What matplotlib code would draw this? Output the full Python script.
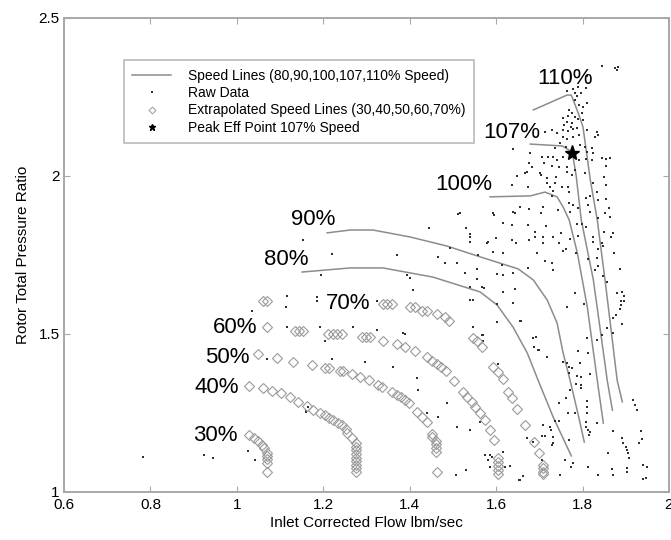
import matplotlib
matplotlib.use("Agg")
import matplotlib.pyplot as plt
from matplotlib.lines import Line2D

plt.rcParams["font.family"] = ["Liberation Sans", "DejaVu Sans"]

# ---- speed lines (measured) ---------------------------------------------
spd80_x = [1.151, 1.262, 1.338, 1.454, 1.563, 1.602, 1.639, 1.672, 1.697, 1.732, 1.774]
spd80_y = [1.696, 1.709, 1.709, 1.680, 1.633, 1.592, 1.522, 1.440, 1.354, 1.237, 1.114]

spd90_x = [1.209, 1.262, 1.315, 1.401, 1.487, 1.563, 1.651, 1.686, 1.718, 1.741, 1.755,
           1.771, 1.790, 1.804]
spd90_y = [1.820, 1.829, 1.829, 1.807, 1.778, 1.744, 1.706, 1.671, 1.608, 1.535, 1.440,
           1.354, 1.244, 1.158]

spd100_x = [1.586, 1.679, 1.713, 1.741, 1.755, 1.769, 1.788, 1.811, 1.834, 1.848]
spd100_y = [1.934, 1.937, 1.949, 1.934, 1.902, 1.861, 1.756, 1.585, 1.354, 1.218]

spd107_x = [1.679, 1.753, 1.776, 1.785, 1.797, 1.811, 1.825, 1.841, 1.857, 1.869]
spd107_y = [2.101, 2.095, 2.076, 2.003, 1.861, 1.766, 1.671, 1.513, 1.354, 1.259]

spd110_x = [1.686, 1.764, 1.774, 1.790, 1.801, 1.818, 1.834, 1.852, 1.866, 1.880, 1.892]
spd110_y = [2.209, 2.256, 2.256, 2.199, 2.155, 1.987, 1.861, 1.671, 1.513, 1.354, 1.285]

# ---- extrapolated speed lines -------------------------------------------
ext30_x = [1.028, 1.040, 1.049, 1.058, 1.063, 1.070, 1.070, 1.070, 1.070, 1.070]
ext30_y = [1.180, 1.171, 1.161, 1.149, 1.139, 1.123, 1.114, 1.104, 1.092, 1.063]

ext40_x = [1.028, 1.061, 1.081, 1.102, 1.123, 1.142, 1.163, 1.176, 1.193, 1.204, 1.213,
           1.223, 1.234, 1.244, 1.253, 1.255, 1.267, 1.276, 1.276, 1.276, 1.276, 1.276,
           1.276, 1.276, 1.276, 1.276]
ext40_y = [1.335, 1.329, 1.320, 1.313, 1.301, 1.285, 1.272, 1.259, 1.250, 1.244, 1.234,
           1.228, 1.218, 1.212, 1.199, 1.187, 1.171, 1.155, 1.142, 1.133, 1.120, 1.108,
           1.098, 1.085, 1.076, 1.063]

ext50_x = [1.049, 1.093, 1.130, 1.174, 1.204, 1.213, 1.239, 1.246, 1.267, 1.285, 1.306,
           1.327, 1.336, 1.359, 1.371, 1.380, 1.389, 1.399, 1.417, 1.429, 1.440, 1.452,
           1.452, 1.461, 1.461, 1.461, 1.461, 1.463]
ext50_y = [1.437, 1.424, 1.411, 1.402, 1.392, 1.392, 1.383, 1.383, 1.373, 1.364, 1.354,
           1.339, 1.332, 1.316, 1.307, 1.301, 1.291, 1.282, 1.253, 1.237, 1.222, 1.184,
           1.174, 1.161, 1.152, 1.139, 1.127, 1.063]

ext60_x = [1.070, 1.135, 1.144, 1.153, 1.211, 1.223, 1.232, 1.244, 1.290, 1.299, 1.308,
           1.338, 1.371, 1.389, 1.413, 1.440, 1.452, 1.463, 1.473, 1.484, 1.503, 1.524,
           1.533, 1.544, 1.551, 1.563, 1.575, 1.586, 1.595, 1.605, 1.605, 1.605, 1.605,
           1.605]
ext60_y = [1.522, 1.509, 1.509, 1.509, 1.500, 1.500, 1.500, 1.500, 1.491, 1.491, 1.491,
           1.478, 1.468, 1.459, 1.446, 1.427, 1.415, 1.405, 1.396, 1.383, 1.351, 1.316,
           1.301, 1.285, 1.269, 1.250, 1.228, 1.196, 1.165, 1.108, 1.095, 1.082, 1.070,
           1.057]

ext70_x = [1.061, 1.070, 1.338, 1.348, 1.359, 1.401, 1.413, 1.429, 1.440, 1.463, 1.482,
           1.491, 1.547, 1.556, 1.568, 1.593, 1.605, 1.616, 1.628, 1.637, 1.649, 1.667,
           1.688, 1.700, 1.709, 1.709, 1.709, 1.709]
ext70_y = [1.604, 1.604, 1.595, 1.595, 1.595, 1.585, 1.585, 1.573, 1.573, 1.563, 1.554,
           1.541, 1.487, 1.478, 1.459, 1.396, 1.380, 1.358, 1.316, 1.297, 1.263, 1.212,
           1.158, 1.123, 1.085, 1.076, 1.063, 1.057]

# ---- raw data ------------------------------------------------------------
raw_x = [
    0.783, 0.924, 0.945, 1.026, 1.042, 1.160,
    1.116, 1.114, 1.186, 1.035, 1.116, 1.204, 1.269, 1.325, 1.385, 1.070, 1.220, 1.297,
    1.362, 1.417, 1.419, 1.440, 1.487, 1.466, 1.510, 1.540, 1.563, 1.568, 1.165, 1.160,
    1.591, 1.575, 1.632, 1.656, 1.531, 1.507, 1.686, 1.706, 1.725, 1.718, 1.700, 1.656,
    1.616, 1.568, 1.547, 1.602, 1.639, 1.686, 1.730, 1.732,
    1.512, 1.445, 1.531, 1.540, 1.540, 1.153, 1.220, 1.371, 1.466, 1.482, 1.510, 1.556,
    1.401, 1.195, 1.186, 1.325, 1.540, 1.193, 1.389, 1.547,
    1.616, 1.637, 1.690, 1.716, 1.690, 1.709, 1.732, 1.750, 1.771, 1.746, 1.762, 1.755,
    1.579, 1.600, 1.637, 1.646, 1.676, 1.709, 1.593, 1.695, 1.788, 1.799, 1.808, 1.790,
    1.825, 1.825, 1.850, 1.871, 1.866, 1.845, 1.848, 1.836, 1.873, 1.813, 1.834, 1.785,
    1.829, 1.836, 1.887, 1.857, 1.848, 1.713, 1.730, 1.732, 1.614, 1.616, 1.572, 1.616,
    1.644, 1.783, 1.764, 1.804, 1.880, 1.892, 1.896, 1.889, 1.896, 1.889, 1.887, 1.878,
    1.871, 1.892, 1.857, 1.871, 1.845, 1.834, 1.811, 1.602, 1.658, 1.570, 1.570, 1.693,
    1.688, 1.697, 1.790, 1.813, 1.794, 1.755, 1.764, 1.769, 1.776, 1.769, 1.788, 1.797,
    1.818, 1.605,
    1.785, 1.797, 1.797, 1.762, 1.771, 1.746, 1.811, 1.811, 1.811, 1.767, 1.783, 1.737,
    1.746, 1.709, 1.727, 1.808, 1.808, 1.813, 1.818, 1.815, 1.834, 1.871, 1.917, 1.922,
    1.926, 1.936, 1.938, 1.931, 1.892, 1.894, 1.901, 1.903, 1.906, 1.908, 1.859, 1.869,
    1.871, 1.903, 1.903, 1.940, 1.950, 1.940, 1.947, 1.836, 1.813, 1.774, 1.778, 1.760,
    1.748, 1.769, 1.732, 1.713, 1.672, 1.706, 1.663, 1.653, 1.616, 1.586, 1.581, 1.586,
    1.621,
    1.845, 1.875, 1.880, 1.882, 1.811, 1.790, 1.778, 1.783, 1.797, 1.808, 1.764, 1.788,
    1.783, 1.811, 1.792, 1.769, 1.776, 1.799, 1.801, 1.767, 1.783, 1.790, 1.755, 1.764,
    1.776, 1.757, 1.774, 1.788, 1.801, 1.755, 1.767, 1.778, 1.741, 1.755, 1.764, 1.778,
    1.792, 1.811, 1.834, 1.836, 1.829, 1.730, 1.713, 1.748, 1.762, 1.737, 1.794, 1.806,
    1.811, 1.822, 1.825, 1.639, 1.679, 1.706, 1.720, 1.732, 1.741, 1.755, 1.792, 1.808,
    1.822, 1.845, 1.855, 1.864, 1.711, 1.730, 1.746, 1.764, 1.764, 1.783, 1.676, 1.667,
    1.704, 1.718, 1.739, 1.776, 1.806, 1.850, 1.855, 1.649, 1.637, 1.674, 1.718, 1.725,
    1.732, 1.737, 1.753, 1.767, 1.769, 1.825, 1.855, 1.834, 1.818, 1.808, 1.778, 1.769,
    1.836, 1.855, 1.862, 1.852, 1.813, 1.818, 1.790, 1.771, 1.744, 1.730, 1.709, 1.704,
    1.676, 1.656, 1.639, 1.595, 1.836, 1.864,
    1.672, 1.683, 1.702, 1.517, 1.540, 1.593, 1.644, 1.674, 1.494, 1.581, 1.558, 1.528,
    1.540, 1.556, 1.602, 1.639, 1.674, 1.616, 1.394, 1.408,
]
raw_y = [
    1.111, 1.117, 1.108, 1.130, 1.101, 1.256,
    1.620, 1.585, 1.604, 1.573, 1.522, 1.478, 1.522, 1.513, 1.503, 1.421, 1.421, 1.411,
    1.396, 1.361, 1.323, 1.250, 1.282, 1.237, 1.206, 1.196, 1.222, 1.497, 1.269, 1.253,
    1.111, 1.117, 1.082, 1.038, 1.070, 1.054, 1.158, 1.177, 1.206, 1.427, 1.449, 1.541,
    1.633, 1.649, 1.608, 1.595, 1.598, 1.487, 1.149, 1.174,
    1.880, 1.835, 1.835, 1.816, 1.791, 1.797, 1.753, 1.750, 1.744, 1.725, 1.725, 1.674,
    1.677, 1.687, 1.617, 1.604, 1.608, 1.522, 1.500, 1.522,
    1.851, 1.845, 1.823, 1.842, 1.807, 1.807, 1.807, 1.820, 1.801, 1.788, 1.769, 1.763,
    1.788, 1.804, 1.797, 1.788, 1.797, 1.788, 1.759, 1.756, 1.848, 1.848, 1.839, 1.810,
    1.807, 1.791, 1.823, 1.820, 1.807, 1.788, 1.778, 1.769, 1.756, 1.737, 1.741, 1.756,
    1.703, 1.715, 1.706, 1.665, 1.684, 1.731, 1.725, 1.703, 1.718, 1.687, 1.646, 1.633,
    1.642, 1.630, 1.585, 1.595, 1.630, 1.633, 1.620, 1.604, 1.604, 1.592, 1.579, 1.560,
    1.551, 1.532, 1.519, 1.503, 1.497, 1.481, 1.487, 1.538, 1.541, 1.497, 1.478, 1.491,
    1.459, 1.449, 1.446, 1.440, 1.408, 1.411, 1.408, 1.396, 1.392, 1.377, 1.367, 1.364,
    1.373, 1.405,
    1.342, 1.339, 1.329, 1.297, 1.323, 1.282, 1.288, 1.269, 1.250, 1.250, 1.250, 1.225,
    1.225, 1.212, 1.196, 1.222, 1.206, 1.196, 1.190, 1.180, 1.218, 1.193, 1.291, 1.275,
    1.259, 1.193, 1.168, 1.155, 1.171, 1.155, 1.142, 1.133, 1.123, 1.108, 1.123, 1.073,
    1.054, 1.076, 1.063, 1.085, 1.079, 1.041, 1.044, 1.054, 1.079, 1.079, 1.092, 1.101,
    1.054, 1.165, 1.155, 1.177, 1.171, 1.101, 1.051, 1.038, 1.127, 1.117, 1.101, 1.079,
    1.079,
    2.348, 2.342, 2.335, 2.345, 2.316, 2.282, 2.275, 2.263, 2.263, 2.278, 2.269, 2.253,
    2.241, 2.231, 2.225, 2.209, 2.199, 2.199, 2.218, 2.190, 2.187, 2.180, 2.184, 2.171,
    2.168, 2.161, 2.155, 2.152, 2.177, 2.146, 2.142, 2.149, 2.136, 2.123, 2.117, 2.123,
    2.130, 2.146, 2.139, 2.130, 2.123, 2.146, 2.139, 2.104, 2.092, 2.089, 2.098, 2.092,
    2.076, 2.089, 2.073, 2.085, 2.073, 2.060, 2.060, 2.060, 2.051, 2.060, 2.051, 2.054,
    2.051, 2.057, 2.054, 2.057, 2.041, 2.032, 2.028, 2.028, 2.013, 2.019, 2.041, 2.009,
    2.003, 1.994, 1.997, 2.003, 2.009, 1.997, 2.032, 2.000, 1.972, 1.965, 1.978, 1.965,
    1.953, 1.978, 1.965, 1.965, 1.949, 1.978, 1.972, 1.949, 1.937, 1.930, 1.908, 1.915,
    1.924, 1.927, 1.899, 1.883, 1.908, 1.886, 1.899, 1.886, 1.892, 1.937, 1.902, 1.883,
    1.896, 1.902, 1.886, 1.877, 1.867, 1.870,
    2.013, 2.028, 2.009, 1.883, 1.807, 1.883, 1.883, 1.845, 1.772, 1.791, 1.750, 1.693,
    1.649, 1.706, 1.690, 1.693, 1.709, 1.756, 1.687, 1.639,
]

peak_x = [1.776]
peak_y = [2.073]

speed_labels = ["30%", "40%", "50%", "60%", "70%", "80%", "90%", "100%", "107%", "110%"]
label_x = [0.950, 0.954, 0.977, 0.996, 1.257, 1.114, 1.176, 1.524, 1.637, 1.759]
label_y = [1.180, 1.332, 1.427, 1.522, 1.598, 1.737, 1.861, 1.972, 2.139, 2.310]

LINE_C = "#8c8c8c"
DIAM_C = "#9a9a9a"
FRAME_C = "#a8a8a8"

fig = plt.figure(figsize=(6.71, 5.40), dpi=100)
ax = fig.add_axes([0.0954, 0.0889, 0.9016, 0.8778])

speed_sets = [(spd80_x, spd80_y), (spd90_x, spd90_y), (spd100_x, spd100_y),
              (spd107_x, spd107_y), (spd110_x, spd110_y)]
for sx, sy in speed_sets:
    ax.plot(sx, sy, color=LINE_C, lw=1.1)

ax.plot(raw_x, raw_y, ls="none", marker="s", ms=1.6, mew=0, color="#303030")

ext_sets = [(ext30_x, ext30_y), (ext40_x, ext40_y), (ext50_x, ext50_y),
            (ext60_x, ext60_y), (ext70_x, ext70_y)]
for ex, ey in ext_sets:
    ax.plot(ex, ey, ls="none", marker="D", ms=4.8, mfc="none", mec=DIAM_C, mew=0.8)

ax.plot(peak_x, peak_y, ls="none", marker="*", ms=11, color="black")

for txt, lx, ly in zip(speed_labels, label_x, label_y):
    ax.text(lx, ly, txt, fontsize=16, ha="center", va="center")

ax.set_xlim(0.6, 2.0)
ax.set_ylim(1.0, 2.5)
ax.set_xticks([0.6, 0.8, 1.0, 1.2, 1.4, 1.6, 1.8, 2.0])
ax.set_xticklabels(["0.6", "0.8", "1", "1.2", "1.4", "1.6", "1.8", "2"])
ax.set_yticks([1.0, 1.5, 2.0, 2.5])
ax.set_yticklabels(["1", "1.5", "2", "2.5"])
ax.tick_params(direction="in", length=4, width=0.8, color=FRAME_C, labelsize=11,
               top=True, right=True)
ax.tick_params(axis="x", pad=4)
ax.tick_params(axis="y", pad=3)
for sp in ax.spines.values():
    sp.set_color(FRAME_C)
    sp.set_linewidth(1.4)

ax.set_xlabel("Inlet Corrected Flow lbm/sec", fontsize=11, labelpad=3)
ax.set_ylabel("Rotor Total Pressure Ratio", fontsize=11, labelpad=6)

# small legend handles, as in the original legend
handles = [
    Line2D([], [], color=LINE_C, lw=1.1),
    Line2D([], [], ls="none", marker="s", ms=1.6, mew=0, color="#303030"),
    Line2D([], [], ls="none", marker="D", ms=3.5, mfc="none", mec=DIAM_C, mew=0.7),
    Line2D([], [], ls="none", marker="*", ms=5, color="black"),
]
labels = ["Speed Lines (80,90,100,107,110% Speed)", "Raw Data",
          "Extrapolated Speed Lines (30,40,50,60,70%)", "Peak Eff Point 107% Speed"]
leg = ax.legend(handles, labels, loc="upper left", bbox_to_anchor=(0.099, 0.911),
                fontsize=10.0, frameon=True, fancybox=False, handlelength=2.8,
                handletextpad=1.2, borderpad=0.6, labelspacing=0.25, borderaxespad=0)
leg.get_frame().set_edgecolor(FRAME_C)
leg.get_frame().set_linewidth(1.2)

fig.savefig("out.png", dpi=100)
